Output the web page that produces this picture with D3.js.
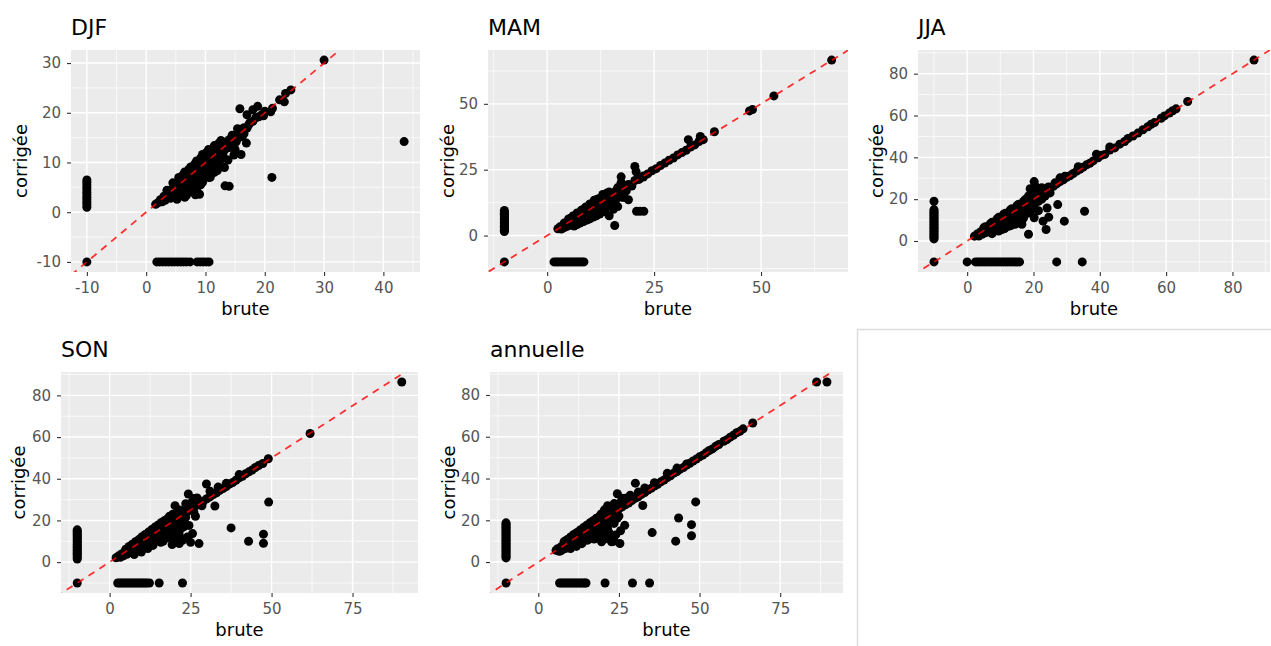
<!DOCTYPE html>
<html><head><meta charset="utf-8">
<script src="https://cdn.jsdelivr.net/npm/d3@7"></script>
<style>
html,body{margin:0;padding:0;background:#fff;}
svg{display:block;font-family:"DejaVu Sans",sans-serif;}
</style></head>
<body>
<svg id="chart" width="1271" height="646"></svg>
<script>
// ---------------- DATA : [brute, corrigée] ----------------
const djf = [
[-10,1],[-10,1.5],[-10,2],[-10,2.5],[-10,3],[-10,3.5],[-10,4],[-10,4.5],[-10,5],[-10,5.5],[-10,6],[-10,6.5],[-10,-10],
[1.8,-10],[2.3,-10],[2.8,-10],[3.3,-10],[3.8,-10],[4.3,-10],[4.8,-10],[5.3,-10],[5.8,-10],[6.3,-10],[6.8,-10],[7.4,-10],[8.6,-10],[9.1,-10],[9.6,-10],[10.1,-10],[10.6,-10],
[1.6,1.6],[2.0,1.9],[2.4,2.5],[2.7,2.1],[3.0,3.2],[3.2,2.4],[3.5,3.6],[3.7,2.9],[4.0,4.3],[4.1,2.8],[4.3,3.7],[4.5,4.9],[4.7,3.3],[5.0,5.1],[5.0,4.1],[5.2,2.6],[5.5,5.8],[5.5,4.6],[5.8,3.6],[6.0,6.4],[6.0,5.1],[6.2,4.2],[6.5,6.9],[6.5,5.6],[6.8,3.4],[7.0,7.3],[7.0,6.1],[7.2,4.8],[7.5,7.9],[7.5,6.6],[7.8,5.3],[8.0,8.5],[8.0,7.1],[8.3,3.5],[8.5,8.9],[8.5,7.6],[8.8,6.2],[9.0,9.4],[9.0,8.1],[9.2,5.5],[9.5,10.0],[9.5,8.6],[9.8,7.1],[10.0,10.6],[10.0,9.1],[10.3,7.9],[10.5,11.1],[10.5,9.6],[11.0,11.7],[11.0,10.1],[11.3,8.6],[11.5,12.1],[11.5,10.6],[12.0,12.6],[12.0,11.1],[12.5,13.1],[12.3,9.6],[13.0,13.6],[13.0,12.1],[13.5,14.1],[14.0,14.6],[14.5,13.6],[15.0,15.3],[15.5,14.9],[16.0,16.6],[16.5,17.0],[17.0,16.9],[17.5,18.0],[18.0,18.3],[18.5,19.0],[19.0,19.2],[19.5,19.6],[20.0,20.3],
[5.5,7.0],[6.5,8.1],[7.5,9.1],[8.5,10.3],[9.5,11.6],[10.5,12.6],[11.5,13.4],[4.5,5.9],[3.5,4.4],[12.8,14.2],[14.0,13.0],[15.0,12.6],[13.8,10.5],[16.0,11.6],[10.8,7.0],[9.0,3.6],[11.7,9.0],[14.8,11.5],[15.7,16.2],[16.9,13.9],
[6.2,7.5],[7.2,8.6],[8.2,9.7],[9.2,10.9],[10.2,12.0],[11.2,12.8],[12.2,13.8],[7.0,5.3],[8.0,6.3],[9.0,7.2],[10.0,8.2],[11.0,9.2],[12.0,10.2],[13.0,11.2],[6.0,4.5],[5.0,3.4],[4.0,3.5],[3.0,2.6],[8.5,4.6],[9.5,6.0],[10.5,7.0],[11.5,8.0],[12.5,10.5],[13.5,12.8],[14.3,14.0],[14.5,15.5],[15.2,14.2],[16.2,15.2],[13.2,9.0],[12.0,8.4],[7.5,4.2],[6.5,3.0],
[30.0,30.6],[43.5,14.2],[21.2,7.0],[13.3,5.3],[14.0,5.2],[15.8,20.8],[17.0,19.6],[18.0,20.6],[18.8,21.3],[21.3,20.9],[21.0,20.2],[22.5,22.6],[23.3,22.2],[23.5,23.9],[24.4,24.6],[19.8,19.4],[15.4,16.8],[16.5,15.8],[17.3,17.6],[14.8,13.3],[12.6,14.4]
];
const mam = [
[-10,1.5],[-10,2],[-10,2.5],[-10,3],[-10,3.5],[-10,4],[-10,4.5],[-10,5],[-10,5.5],[-10,6],[-10,6.5],[-10,7],[-10,7.5],[-10,8],[-10,8.5],[-10,9],[-10,9.5],[-10,-10],
[1.6,-10],[2.1,-10],[2.6,-10],[3.1,-10],[3.6,-10],[4.1,-10],[4.6,-10],[5.1,-10],[5.6,-10],[6.1,-10],[6.6,-10],[7.1,-10],[7.6,-10],[8.1,-10],[8.6,-10],
[2.5,2.6],[3.0,3.3],[3.3,2.5],[3.8,4.0],[4.0,3.0],[4.5,4.8],[4.8,3.6],[5.2,5.4],[5.5,4.2],[5.8,6.1],[6.0,4.8],[6.3,3.6],[6.5,6.9],[6.8,5.4],[7.0,4.2],[7.3,7.6],[7.5,6.0],[7.8,4.8],[8.0,8.4],[8.3,6.6],[8.5,5.3],[8.8,9.2],[9.0,7.3],[9.3,5.9],[9.5,10.0],[9.8,8.0],[10.0,6.4],[10.3,10.8],[10.5,8.6],[10.8,7.0],[11.0,11.5],[11.3,9.3],[11.5,7.5],[11.8,12.4],[12.0,10.0],[12.3,8.2],[12.5,13.1],[12.8,10.8],[13.0,13.8],[13.3,11.6],[13.5,9.0],[14.0,14.7],[14.3,12.5],[14.5,15.4],[15.0,13.5],[15.3,16.1],[15.5,10.0],[16.0,16.8],[16.3,14.8],[17.0,17.6],[17.3,15.8],[18.0,18.5],[18.5,17.0],[19.0,19.4],[19.8,18.8],[20.5,20.9],[21.5,21.3],[22.5,22.6],[23.5,23.4],[24.5,24.6],[25.5,25.4],[26.5,26.6],[27.5,27.5],[28.5,28.6],[29.5,29.4],[30.5,30.6],[31.5,31.5],[32.5,32.4],[33.5,33.6],[34.5,34.4],[35.5,35.7],[36.5,36.4],
[6.0,7.4],[8.0,9.6],[10.0,12.0],[12.0,14.0],[14.0,16.2],[16.5,18.2],[11.0,13.4],[9.0,10.8],[13.0,15.6],[7.0,8.6],[5.0,6.3],
[4.0,4.8],[5.5,6.6],[7.0,8.2],[8.5,10.0],[10.0,11.8],[11.5,13.6],[13.0,15.0],[14.5,16.5],[4.5,3.5],[6.0,5.0],[7.5,5.2],[9.0,6.5],[10.5,7.8],[12.0,9.0],[13.5,10.5],[15.0,11.8],[16.0,13.5],[17.5,14.5],[9.5,6.8],[11.0,8.0],[12.5,9.5],[8.0,5.8],
[15.8,3.8],[19.0,13.6],[20.9,9.2],[21.7,9.2],[22.6,9.2],[17.3,22.3],[17.3,20.2],[20.5,26.2],[20.8,24.2],[22.5,22.2],[33.0,36.4],[35.8,37.6],[39.1,39.4],[47.3,47.3],[48.0,47.8],[53.0,53.0],[66.5,66.6],[16.5,11.0],[14.5,7.5],[18.0,14.5]
];
const jja = [
[-10,1],[-10,1.7],[-10,2.4],[-10,3.1],[-10,3.8],[-10,4.5],[-10,5.2],[-10,5.9],[-10,6.6],[-10,7.3],[-10,8],[-10,8.7],[-10,9.4],[-10,10.1],[-10,10.8],[-10,11.5],[-10,12.2],[-10,12.9],[-10,13.6],[-10,14.3],[-10,15],[-10,19],[-10,-10],
[0,-10],[2.5,-10],[3.2,-10],[3.9,-10],[4.6,-10],[5.3,-10],[6,-10],[6.7,-10],[7.4,-10],[8.1,-10],[8.8,-10],[9.5,-10],[10.2,-10],[10.9,-10],[11.6,-10],[12.3,-10],[13,-10],[13.7,-10],[14.4,-10],[15.1,-10],[15.8,-10],[27,-10],[34.7,-10],
[2.2,2.3],[3.0,3.3],[3.5,2.4],[4.0,4.3],[4.5,3.2],[5.0,5.2],[5.5,3.9],[6.0,6.3],[6.5,4.8],[7.0,7.2],[7.3,5.4],[7.5,3.5],[8.0,8.3],[8.5,6.3],[9.0,9.4],[9.3,7.0],[9.5,4.8],[10.0,10.4],[10.5,8.0],[11.0,11.3],[11.3,6.0],[11.5,9.0],[12.0,12.5],[12.5,10.0],[13.0,13.4],[13.2,7.4],[13.5,11.2],[14.0,14.5],[14.5,12.0],[15.0,15.6],[15.5,13.0],[15.5,9.5],[16.0,16.4],[16.5,14.0],[17.0,17.5],[17.5,12.6],[18.0,18.6],[18.5,16.0],[19.0,19.5],[19.5,17.0],[20.0,20.6],[20.5,18.0],[21.0,21.5],[22.0,22.3],[22.5,20.0],[23.0,23.3],[24.0,24.4],[25.0,25.4],[26.0,26.2],[27.0,27.3],[28.0,28.4],[29.0,29.3],[30.0,30.4],[31.0,31.2],[32.0,32.3],[33.0,33.4],[34.0,34.3],[35.0,35.3],[36.0,36.4],[37.0,37.2],[38.0,38.3],[39.5,39.8],[40.5,41.0],[41.5,41.4],[43.0,43.5],[44.5,44.5],[46.0,46.3],[47.5,47.6],[48.5,49.0],[50.0,50.2],[51.5,51.6],[53.0,53.2],[54.5,54.6],[55.5,55.8],[56.5,56.6],[58.5,58.7],[59.5,59.8],[61.0,61.2],[62.0,62.3],[63.0,63.2],[66.5,66.7],[86.5,86.5],
[5.5,6.8],[7.5,9.0],[9.5,11.3],[11.5,13.3],[13.5,15.4],[15.5,17.6],[17.5,19.8],[18.5,21.5],[19.5,22.2],[39.0,41.5],[43.0,45.0],[33.5,35.5],[28.0,30.2],
[5.0,6.3],[7.0,8.3],[9.0,10.5],[11.0,12.8],[13.0,14.8],[15.0,16.9],[17.0,18.9],[6.0,4.5],[8.0,6.0],[10.0,7.5],[12.0,9.0],[14.0,10.5],[16.0,12.0],[18.0,14.5],[10.5,5.5],[12.5,7.0],[14.5,8.0],[16.5,11.0],[20.0,16.0],[21.5,19.0],[23.5,21.5],[24.5,25.8],[26.5,27.8],[29.5,31.0],[19.0,25.0],[20.5,26.3],
[18.5,3.2],[23.8,5.5],[29.3,9.5],[35.4,14.2],[27.3,17.4],[24.6,11.4],[22.9,9.5],[24.1,15.8],[20.2,11.1],[21.5,14.5],[20.2,28.4],[21.1,23.7],[22.5,25.5],[19.0,13.5],[17.0,11.0],[25.0,23.0],[16.5,8.0],[14.0,8.8]
];
const son = [
[-10,1.5],[-10,2.2],[-10,2.9],[-10,3.6],[-10,4.3],[-10,5],[-10,5.7],[-10,6.4],[-10,7.1],[-10,7.8],[-10,8.5],[-10,9.2],[-10,9.9],[-10,10.6],[-10,11.3],[-10,12],[-10,12.7],[-10,13.4],[-10,14.1],[-10,14.8],[-10,15.5],[-10,-10],
[2.5,-10],[3.1,-10],[3.7,-10],[4.3,-10],[4.9,-10],[5.5,-10],[6.1,-10],[6.7,-10],[7.3,-10],[7.9,-10],[8.5,-10],[9.1,-10],[9.7,-10],[10.3,-10],[10.9,-10],[11.5,-10],[12.3,-10],[15.3,-10],[22.5,-10],
[2.0,2.1],[2.8,3.0],[3.3,2.3],[3.8,4.0],[4.3,3.0],[4.8,5.1],[5.3,3.8],[5.8,6.1],[6.3,4.6],[6.8,7.1],[7.3,5.5],[7.6,3.6],[8.0,8.3],[8.5,6.5],[9.0,9.4],[9.3,7.0],[9.8,4.8],[10.0,10.4],[10.5,8.2],[11.0,11.4],[11.4,9.0],[11.8,6.5],[12.0,12.5],[12.5,10.0],[13.0,13.5],[13.4,8.0],[13.8,11.2],[14.0,14.6],[14.5,12.0],[15.0,15.6],[15.5,13.2],[15.8,9.5],[16.0,16.6],[16.5,14.0],[17.0,17.6],[17.5,11.5],[18.0,18.6],[18.5,15.5],[19.0,19.5],[19.3,8.4],[19.5,12.5],[20.0,20.6],[20.5,17.0],[21.0,21.5],[21.5,8.9],[22.0,22.6],[22.0,16.0],[22.8,19.0],[23.0,23.5],[24.0,24.5],[24.5,17.6],[25.0,25.5],[25.6,13.7],[26.0,26.3],[26.5,22.0],[27.0,27.4],[27.6,8.9],[28.0,28.5],[29.0,29.3],[30.0,30.4],[31.0,31.3],[32.0,32.4],[33.0,33.3],[34.0,34.4],[35.0,35.3],[36.0,36.2],[37.0,37.5],[38.0,38.2],[39.0,39.3],[40.0,40.4],[41.0,41.2],[42.0,42.4],[43.0,43.3],[44.0,44.2],[45.0,45.4],[46.0,46.3],[47.3,47.3],[49.0,49.6],
[6.0,7.5],[8.0,9.8],[10.0,12.2],[12.0,14.4],[14.0,16.8],[16.0,19.0],[18.0,21.0],[19.5,23.0],[20.2,27.1],[21.5,25.0],[24.3,32.7],[25.5,29.0],[27.0,30.8],[29.9,37.5],[31.0,34.0],[33.5,36.0],[36.0,37.8],[40.0,42.0],[12.5,8.0],[15.0,10.5],[17.0,13.5],[22.5,10.5],[24.0,12.0],[25.0,9.5],[20.5,14.0],
[5.0,6.2],[7.0,8.6],[9.0,10.8],[11.0,13.3],[13.0,15.6],[15.0,17.8],[17.0,20.0],[18.5,22.0],[5.5,4.2],[7.5,6.0],[9.5,7.5],[11.0,8.5],[13.0,10.0],[14.5,11.0],[16.0,12.5],[17.5,14.5],[19.0,16.0],[20.5,18.5],[22.0,20.0],[23.5,21.5],[16.5,10.0],[18.0,12.0],[20.0,11.0],[21.5,13.0],[23.0,17.0],[26.0,24.0],[28.5,27.0],[22.5,24.5],[23.5,28.0],[26.0,30.5],
[37.5,16.4],[42.9,10.0],[47.5,13.4],[47.5,9.0],[49.1,28.8],[32.5,26.9],[61.9,61.7],[90.2,86.4]
];
const annuelle = [
[-10,2],[-10,2.7],[-10,3.4],[-10,4.1],[-10,4.8],[-10,5.5],[-10,6.2],[-10,6.9],[-10,7.6],[-10,8.3],[-10,9],[-10,9.7],[-10,10.4],[-10,11.1],[-10,11.8],[-10,12.5],[-10,13.2],[-10,13.9],[-10,14.6],[-10,15.3],[-10,16],[-10,16.7],[-10,17.4],[-10,18.1],[-10,18.8],[-10,-10],
[6.6,-10],[7.2,-10],[7.8,-10],[8.4,-10],[9,-10],[9.6,-10],[10.2,-10],[10.8,-10],[11.4,-10],[12,-10],[12.6,-10],[13.2,-10],[13.8,-10],[14.4,-10],[14.8,-10],[20.7,-10],[29.2,-10],[34.5,-10],
[5.5,5.6],[6.0,6.4],[6.5,5.2],[7.0,7.3],[7.5,6.0],[8.0,8.4],[8.3,6.5],[8.8,9.2],[9.0,7.4],[9.5,10.0],[9.8,8.0],[10.0,6.5],[10.5,11.0],[10.8,9.0],[11.3,11.8],[11.5,9.6],[11.8,7.5],[12.0,12.6],[12.5,10.5],[13.0,13.5],[13.3,11.0],[13.5,8.8],[14.0,14.6],[14.5,12.5],[15.0,15.5],[15.3,10.5],[15.5,13.0],[16.0,16.6],[16.5,14.5],[17.0,17.5],[17.3,11.0],[17.5,15.5],[18.0,18.6],[18.5,16.0],[19.0,19.5],[19.6,9.7],[19.5,14.0],[20.0,20.6],[20.5,18.0],[21.0,21.6],[21.5,16.0],[21.7,12.9],[22.0,22.6],[22.5,20.0],[22.7,9.7],[23.0,23.5],[23.5,18.5],[24.0,24.5],[24.5,21.0],[25.0,25.5],[25.3,8.9],[25.5,15.0],[26.0,26.4],[26.8,17.6],[27.0,27.4],[28.0,28.3],[29.0,29.4],[30.0,30.5],[31.0,31.2],[32.0,32.5],[33.0,33.3],[34.0,34.5],[35.0,35.3],[36.0,36.4],[37.0,37.2],[38.0,38.4],[39.0,39.3],[40.0,40.5],[41.0,41.3],[42.0,42.6],[43.0,43.3],[44.0,44.5],[45.0,45.3],[46.0,46.4],[47.0,47.3],[48.0,48.4],[49.0,49.3],[50.0,50.4],[51.0,51.2],[52.0,52.3],[53.0,53.4],[54.0,54.2],[55.0,55.4],[56.0,56.3],[57.5,57.8],[58.5,58.6],[59.5,59.8],[60.5,60.7],[61.5,61.9],[62.5,62.6],[63.5,63.8],[66.5,66.6],[86.3,86.2],[89.5,86.2],
[8.0,9.8],[10.0,12.0],[12.0,14.2],[14.0,16.5],[16.0,18.8],[18.0,21.0],[19.5,23.0],[20.5,25.0],[21.5,27.0],[23.0,26.5],[24.5,32.7],[25.5,28.5],[27.0,30.5],[30.1,37.8],[31.0,33.5],[33.0,35.5],[36.0,38.0],[40.0,42.5],[43.0,45.0],[46.0,47.0],[18.5,12.0],[20.0,15.5],[22.0,14.0],[24.0,13.0],[23.5,10.0],
[9.0,10.8],[11.0,13.2],[13.0,15.4],[15.0,17.6],[17.0,19.8],[19.0,22.0],[9.0,6.8],[11.0,8.2],[12.5,9.0],[14.0,10.0],[16.0,12.0],[17.5,13.5],[19.0,15.0],[20.5,16.5],[22.0,18.5],[23.5,20.0],[25.0,22.0],[20.5,11.0],[21.5,21.0],[22.5,24.5],[23.5,28.0],[26.0,30.5],[28.5,32.0],[24.5,26.0],[7.0,5.4],[8.0,6.5],
[48.8,28.8],[43.5,21.1],[47.5,17.9],[47.5,12.6],[42.6,10.0],[35.3,14.1],[32.4,27.1]
];

// tick labels
const djfXTicks = [-10, 0, 10, 20, 30, 40];
const djfYTicks = [-10, 0, 10, 20, 30];
const mamXTicks = [0, 25, 50];
const mamYTicks = [0, 25, 50];
const jjaXTicks = [0, 20, 40, 60, 80];
const jjaYTicks = [0, 20, 40, 60, 80];
const sonXTicks = [0, 25, 50, 75];
const sonYTicks = [0, 20, 40, 60, 80];
const annXTicks = [0, 25, 50, 75];
const annYTicks = [0, 20, 40, 60, 80];

const titles = ["DJF", "MAM", "JJA", "SON", "annuelle"];
const xLabel = "brute";
const yLabel = "corrigée";

// ---------------- LAYOUT ----------------
const panels = [
  {title: titles[0], data: djf, xt: djfXTicks, yt: djfYTicks, L: 71, T: 50, R: 420, B: 272, yl: 27},
  {title: titles[1], data: mam, xt: mamXTicks, yt: mamYTicks, L: 488, T: 50, R: 848, B: 272, yl: 454},
  {title: titles[2], data: jja, xt: jjaXTicks, yt: jjaYTicks, L: 918, T: 50, R: 1270, B: 272, yl: 883},
  {title: titles[3], data: son, xt: sonXTicks, yt: sonYTicks, L: 61, T: 372, R: 418, B: 593, yl: 25},
  {title: titles[4], data: annuelle, xt: annXTicks, yt: annYTicks, L: 490, T: 372, R: 843, B: 593, yl: 455}
];

const svg = d3.select("#chart");
const defs = svg.append("defs");

function expand(ext) { const r = ext[1] - ext[0]; return [ext[0] - 0.05 * r, ext[1] + 0.05 * r]; }
function minorOf(ticks, dom) {
  const step = ticks[1] - ticks[0];
  const out = [];
  for (let i = -1; i < ticks.length; i++) {
    const v = ticks[0] + step * (i + 0.5);
    if (v > dom[0] && v < dom[1]) out.push(v);
  }
  return out;
}

panels.forEach((p, i) => {
  const xd = expand(d3.extent(p.data, d => d[0]));
  const yd = expand(d3.extent(p.data, d => d[1]));
  const x = d3.scaleLinear().domain(xd).range([p.L, p.R]);
  const y = d3.scaleLinear().domain(yd).range([p.B, p.T]);
  const g = svg.append("g");

  defs.append("clipPath").attr("id", "clip" + i)
    .append("rect").attr("x", p.L).attr("y", p.T).attr("width", p.R - p.L).attr("height", p.B - p.T);

  g.append("rect").attr("x", p.L).attr("y", p.T).attr("width", p.R - p.L).attr("height", p.B - p.T)
    .attr("fill", "#ebebeb");

  g.selectAll(".mx").data(minorOf(p.xt, xd)).join("line")
    .attr("x1", d => x(d)).attr("x2", d => x(d)).attr("y1", p.T).attr("y2", p.B)
    .attr("stroke", "#fff").attr("stroke-width", 0.7);
  g.selectAll(".my").data(minorOf(p.yt, yd)).join("line")
    .attr("y1", d => y(d)).attr("y2", d => y(d)).attr("x1", p.L).attr("x2", p.R)
    .attr("stroke", "#fff").attr("stroke-width", 0.7);
  g.selectAll(".Mx").data(p.xt).join("line")
    .attr("x1", d => x(d)).attr("x2", d => x(d)).attr("y1", p.T).attr("y2", p.B)
    .attr("stroke", "#fff").attr("stroke-width", 1.4);
  g.selectAll(".My").data(p.yt).join("line")
    .attr("y1", d => y(d)).attr("y2", d => y(d)).attr("x1", p.L).attr("x2", p.R)
    .attr("stroke", "#fff").attr("stroke-width", 1.4);

  g.append("g").selectAll("circle").data(p.data).join("circle")
    .attr("cx", d => x(d[0])).attr("cy", d => y(d[1])).attr("r", 4.5)
    .attr("fill", "#000");

  const lo = Math.min(xd[0], yd[0]) - 5, hi = Math.max(xd[1], yd[1]) + 5;
  g.append("line").attr("clip-path", "url(#clip" + i + ")")
    .attr("x1", x(lo)).attr("y1", y(lo)).attr("x2", x(hi)).attr("y2", y(hi))
    .attr("stroke", "#ff0000").attr("stroke-opacity", 0.8).attr("stroke-width", 1.8)
    .attr("stroke-dasharray", "7,6");

  const xa = g.append("g").attr("transform", `translate(0,${p.B})`)
    .call(d3.axisBottom(x).tickValues(p.xt).tickSize(4).tickPadding(6).tickFormat(d => String(d)));
  const ya = g.append("g").attr("transform", `translate(${p.L},0)`)
    .call(d3.axisLeft(y).tickValues(p.yt).tickSize(4).tickPadding(6).tickFormat(d => String(d)));
  [xa, ya].forEach(a => {
    a.select(".domain").remove();
    a.selectAll(".tick line").attr("stroke", "#333").attr("stroke-width", 1.1);
    a.selectAll(".tick text").attr("fill", "#555").attr("font-size", "15px")
      .attr("font-family", "DejaVu Sans");
  });

  g.append("text").attr("x", p.L).attr("y", p.T - 15).text(p.title)
    .attr("font-size", "22px").attr("fill", "#000");
  g.append("text").attr("x", (p.L + p.R) / 2).attr("y", p.B + 43).text(xLabel)
    .attr("text-anchor", "middle").attr("font-size", "18px").attr("fill", "#000");
  g.append("text").attr("transform", `translate(${p.yl},${(p.T + p.B) / 2}) rotate(-90)`).text(yLabel)
    .attr("text-anchor", "middle").attr("font-size", "18px").attr("fill", "#000");
});

svg.append("path").attr("d", "M857.5,646 V329.5 H1271")
  .attr("fill", "none").attr("stroke", "#dcdcdc").attr("stroke-width", 1.5);
</script>
</body></html>
